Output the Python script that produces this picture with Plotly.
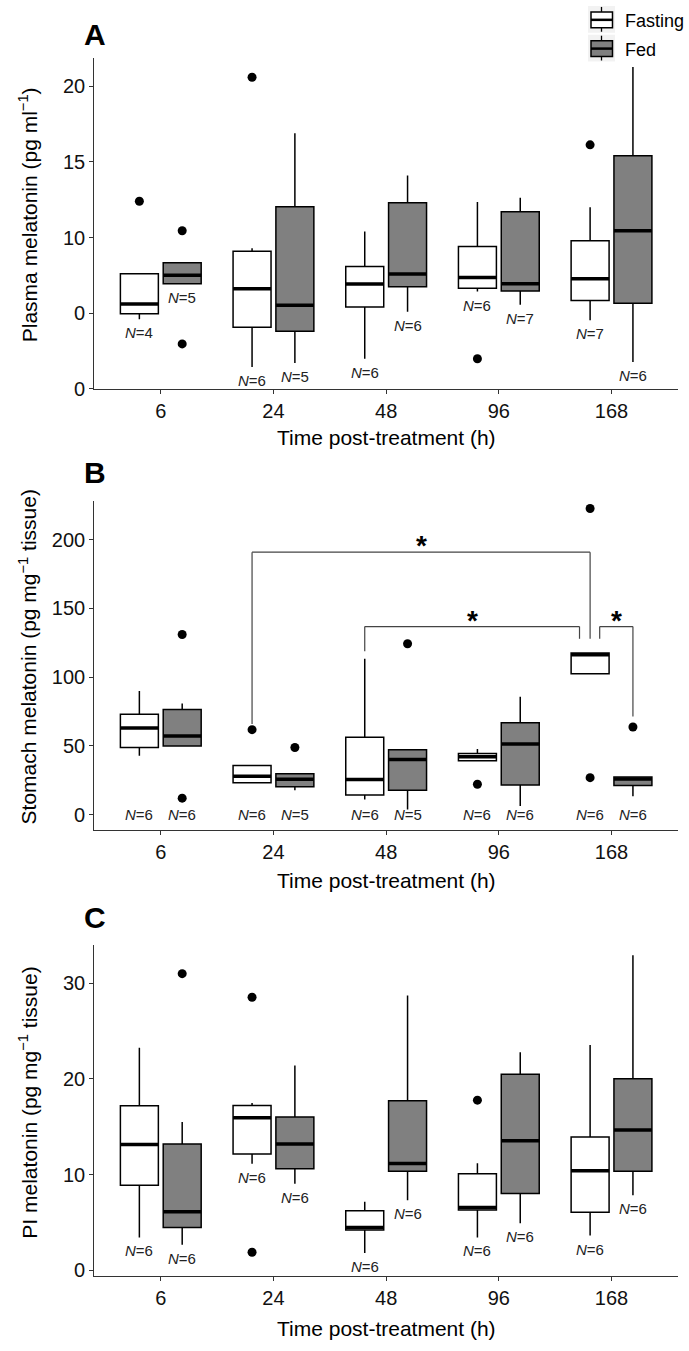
import plotly.graph_objects as go

# ---------------- data ----------------
times = ["6", "24", "48", "96", "168"]
groups = ["Fasting", "Fed"]

# Panel A: plasma melatonin (pg ml-1)
a_fast_q1 = [4.96, 4.07, 5.40, 6.64, 5.84]
a_fast_med = [5.60, 6.62, 6.93, 7.36, 7.28]
a_fast_q3 = [7.60, 9.10, 8.09, 9.40, 9.79]
a_fast_lo = [4.60, 1.44, 1.99, 6.43, 4.54]
a_fast_hi = [7.60, 9.30, 10.40, 12.35, 12.00]
a_fast_out = [[12.4], [20.6], [], [1.99], [16.13]]
a_fast_n = [4, 6, 6, 6, 7]

a_fed_q1 = [6.95, 3.80, 6.75, 6.47, 5.66]
a_fed_med = [7.50, 5.53, 7.59, 6.95, 10.45]
a_fed_q3 = [8.33, 12.04, 12.30, 11.70, 15.41]
a_fed_lo = [6.95, 1.70, 5.10, 5.55, 1.77]
a_fed_hi = [8.33, 16.90, 14.10, 12.63, 21.27]
a_fed_out = [[10.45, 2.97], [], [], [], []]
a_fed_n = [5, 5, 6, 7, 6]

# Panel B: stomach melatonin (pg mg-1 tissue)
b_fast_q1 = [48.8, 23.1, 14.2, 39.2, 102.4]
b_fast_med = [63.0, 27.9, 25.5, 42.1, 116.2]
b_fast_q3 = [73.1, 35.8, 56.3, 44.5, 117.6]
b_fast_lo = [42.8, 23.1, 11.0, 39.2, 102.4]
b_fast_hi = [89.9, 35.8, 113.3, 47.8, 117.6]
b_fast_out = [[], [61.8], [], [22.1], [222.7, 26.9]]
b_fast_n = [6, 6, 6, 6, 6]

b_fed_q1 = [50.0, 20.2, 17.8, 21.6, 21.1]
b_fed_med = [57.2, 25.7, 40.1, 51.4, 26.0]
b_fed_q3 = [76.5, 29.8, 47.1, 66.8, 27.4]
b_fed_lo = [50.0, 17.7, 3.8, 6.2, 13.4]
b_fed_hi = [80.8, 29.8, 47.1, 85.8, 27.4]
b_fed_out = [[131.0, 12.0], [48.8], [124.3], [], [63.7]]
b_fed_n = [6, 5, 5, 6, 6]

# Panel C: PI melatonin (pg mg-1 tissue)
c_fast_q1 = [8.90, 12.17, 4.24, 6.31, 6.07]
c_fast_med = [13.16, 15.96, 4.48, 6.59, 10.41]
c_fast_q3 = [17.20, 17.24, 6.24, 10.10, 13.93]
c_fast_lo = [3.45, 11.14, 1.83, 3.45, 3.65]
c_fast_hi = [23.27, 17.50, 7.17, 11.20, 23.55]
c_fast_out = [[], [28.54, 1.9], [], [17.79], []]
c_fast_n = [6, 6, 6, 6, 6]

c_fed_q1 = [4.50, 10.62, 10.37, 8.03, 10.37]
c_fed_med = [6.13, 13.20, 11.17, 13.55, 14.68]
c_fed_q3 = [13.20, 16.03, 17.72, 20.50, 20.03]
c_fed_lo = [2.69, 9.07, 7.34, 4.93, 7.86]
c_fed_hi = [15.50, 21.40, 28.72, 22.78, 32.92]
c_fed_out = [[31.0], [], [], [], []]
c_fed_n = [6, 6, 6, 6, 6]

a_ticks = [0, 5, 10, 15, 20]
a_ticktext = ["0", "0", "10", "15", "20"]
b_ticks = [0, 50, 100, 150, 200]
c_ticks = [0, 10, 20, 30]

# significance brackets in panel B
b_brackets = [
    (1, "Fasting", 4, "Fasting", 190.9, 65.9, 127.9, 0.0, 0.0),
    (2, "Fasting", 4, "Fasting", 136.8, 118.8, 127.9, 0.0, -0.094),
    (4, "Fasting", 4, "Fed", 136.8, 127.9, 71.4, 0.085, 0.0),
]

# ---------------- layout helpers ----------------
W, H = 689, 1351
FONT = "Liberation Sans, Arial, sans-serif"
OFF = {"Fasting": -0.19, "Fed": 0.19}
BOXW = 0.337
FILL = {"Fasting": "#ffffff", "Fed": "#808080"}


def px_x(p):
    return p / W


def px_y(p):
    return 1 - p / H


panels = [
    dict(
        ax="", top=58, bot=392, rng=[0, 21.9], ticks=a_ticks, ticktext=[str(t) for t in a_ticktext],
        ytitle="Plasma melatonin (pg ml<sup>−1</sup>)", letter="A", letter_y=35, xtitle_y=441,
        nmode="below",
        Fasting=(a_fast_q1, a_fast_med, a_fast_q3, a_fast_lo, a_fast_hi, a_fast_out, a_fast_n),
        Fed=(a_fed_q1, a_fed_med, a_fed_q3, a_fed_lo, a_fed_hi, a_fed_out, a_fed_n),
    ),
    dict(
        ax="2", top=505, bot=836.7, rng=[-11.1, 228.2], ticks=b_ticks, ticktext=[str(t) for t in b_ticks],
        ytitle="Stomach melatonin (pg mg<sup>−1</sup> tissue)", letter="B", letter_y=476, xtitle_y=888,
        nmode="zero",
        Fasting=(b_fast_q1, b_fast_med, b_fast_q3, b_fast_lo, b_fast_hi, b_fast_out, b_fast_n),
        Fed=(b_fed_q1, b_fed_med, b_fed_q3, b_fed_lo, b_fed_hi, b_fed_out, b_fed_n),
    ),
    dict(
        ax="3", top=952.7, bot=1286.7, rng=[-0.6, 34], ticks=c_ticks, ticktext=[str(t) for t in c_ticks],
        ytitle="PI melatonin (pg mg<sup>−1</sup> tissue)", letter="C", letter_y=925, xtitle_y=1339,
        nmode="below",
        Fasting=(c_fast_q1, c_fast_med, c_fast_q3, c_fast_lo, c_fast_hi, c_fast_out, c_fast_n),
        Fed=(c_fed_q1, c_fed_med, c_fed_q3, c_fed_lo, c_fed_hi, c_fed_out, c_fed_n),
    ),
]

fig = go.Figure()
annotations = []
shapes = []
layout_axes = {}

x_left, x_right = 94.3, 678
for pi, p in enumerate(panels):
    xa = "x" + p["ax"]
    ya = "y" + p["ax"]
    for g in groups:
        q1, med, q3, lo, hi, outs, ns = p[g]
        xs = [i + OFF[g] for i in range(len(times))]
        fig.add_trace(go.Box(
            x=xs, q1=q1, median=med, q3=q3, lowerfence=lo, upperfence=hi,
            width=BOXW, whiskerwidth=0, boxpoints=False,
            fillcolor=FILL[g], line=dict(color="black", width=1.5),
            name=g, legendgroup=g, showlegend=False,
            xaxis=xa, yaxis=ya, hoverinfo="skip",
        ))
        # thick median bars
        mx, my = [], []
        for x, m in zip(xs, med):
            mx += [x - BOXW / 2, x + BOXW / 2, None]
            my += [m, m, None]
        fig.add_trace(go.Scatter(
            x=mx, y=my, mode="lines", line=dict(color="black", width=3.5),
            showlegend=False, hoverinfo="skip", xaxis=xa, yaxis=ya,
        ))
        # outliers
        ox, oy = [], []
        for x, o in zip(xs, outs):
            for v in o:
                ox.append(x)
                oy.append(v)
        if ox:
            fig.add_trace(go.Scatter(
                x=ox, y=oy, mode="markers", marker=dict(color="black", size=9),
                showlegend=False, hoverinfo="skip", xaxis=xa, yaxis=ya,
            ))
        # N labels
        for x, n, l in zip(xs, ns, lo):
            if p["nmode"] == "below":
                annotations.append(dict(
                    x=x, y=l, xref=xa, yref=ya, text=f"<i>N</i>={n}", showarrow=False,
                    yanchor="top", yshift=-3, font=dict(size=15, color="#222", family=FONT),
                ))
            else:
                annotations.append(dict(
                    x=x, y=0, xref=xa, yref=ya, text=f"<i>N</i>={n}", showarrow=False,
                    yanchor="middle", font=dict(size=15, color="#222", family=FONT),
                ))

    dom_y = [px_y(p["bot"]), px_y(p["top"])]
    axis_style = dict(
        showline=True, linecolor="#333", linewidth=1.3, ticks="outside", ticklen=4,
        tickcolor="#333", tickwidth=1.3, showgrid=False, zeroline=False,
        tickfont=dict(size=20, color="#111", family=FONT),
    )
    layout_axes["xaxis" + p["ax"]] = dict(
        domain=[px_x(x_left), px_x(x_right)], anchor=ya, range=[-0.59, 4.59],
        tickmode="array", tickvals=list(range(len(times))), ticktext=times, **axis_style,
    )
    layout_axes["yaxis" + p["ax"]] = dict(
        domain=dom_y, anchor=xa, range=p["rng"], tickmode="array",
        tickvals=p["ticks"], ticktext=p["ticktext"], **axis_style,
    )
    annotations.append(dict(
        x=px_x(95), y=px_y(p["letter_y"]), xref="paper", yref="paper", text=f"<b>{p['letter']}</b>",
        showarrow=False, xanchor="center", yanchor="middle", font=dict(size=30, color="black", family=FONT),
    ))
    annotations.append(dict(
        x=px_x((x_left + x_right) / 2), y=px_y(p["xtitle_y"]), xref="paper", yref="paper",
        text="Time post-treatment (h)", showarrow=False, xanchor="center", yanchor="middle",
        font=dict(size=21, color="black", family=FONT),
    ))
    annotations.append(dict(
        x=px_x(28), y=px_y((p["top"] + p["bot"]) / 2 - 8), xref="paper", yref="paper",
        text=p["ytitle"], textangle=-90, showarrow=False, xanchor="center", yanchor="middle",
        font=dict(size=21, color="black", family=FONT),
    ))

# brackets for panel B
for li, lg, ri, rg, top, lfoot, rfoot, ldx, rdx in b_brackets:
    xl = li + OFF[lg] + ldx
    xr = ri + OFF[rg] + rdx
    for (x0, y0, x1, y1) in [(xl, lfoot, xl, top), (xl, top, xr, top), (xr, top, xr, rfoot)]:
        shapes.append(dict(type="line", xref="x2", yref="y2", x0=x0, y0=y0, x1=x1, y1=y1,
                           line=dict(color="#444", width=1.2)))
    annotations.append(dict(
        x=(xl + xr) / 2, y=top, xref="x2", yref="y2", text="<b>*</b>", showarrow=False,
        yanchor="bottom", yshift=-11, font=dict(size=28, color="black", family=FONT),
    ))

# legend (ggplot-style keys)
legend_keys = [("Fasting", 6, 33), ("Fed", 35, 62)]
for g, k_top, k_bot in legend_keys:
    kx0, kx1 = 588, 615
    shapes.append(dict(type="rect", xref="paper", yref="paper", x0=px_x(kx0), x1=px_x(kx1),
                       y0=px_y(k_bot), y1=px_y(k_top), fillcolor="#f2f2f2", line=dict(width=0),
                       layer="below"))
    bt, bb = k_top + 6, k_bot - 5
    cx = (kx0 + kx1) / 2
    shapes.append(dict(type="line", xref="paper", yref="paper", x0=px_x(cx), x1=px_x(cx),
                       y0=px_y(k_top + 1), y1=px_y(k_bot - 1), line=dict(color="black", width=1.3)))
    shapes.append(dict(type="rect", xref="paper", yref="paper", x0=px_x(591), x1=px_x(612.5),
                       y0=px_y(bb), y1=px_y(bt), fillcolor=FILL[g], line=dict(color="black", width=1.5)))
    mid = (bt + bb) / 2
    shapes.append(dict(type="line", xref="paper", yref="paper", x0=px_x(591), x1=px_x(612.5),
                       y0=px_y(mid), y1=px_y(mid), line=dict(color="black", width=2.5)))
    annotations.append(dict(
        x=px_x(623), y=px_y((k_top + k_bot) / 2 + 2), xref="paper", yref="paper", text=g,
        showarrow=False, xanchor="left", yanchor="middle", font=dict(size=18, color="black", family=FONT),
    ))

fig.update_layout(
    width=W, height=H, margin=dict(l=0, r=0, t=0, b=0),
    paper_bgcolor="white", plot_bgcolor="white", boxmode="overlay",
    font=dict(family=FONT, color="black"),
    showlegend=False,
    annotations=annotations, shapes=shapes, **layout_axes,
)

fig.write_html("out.html")
